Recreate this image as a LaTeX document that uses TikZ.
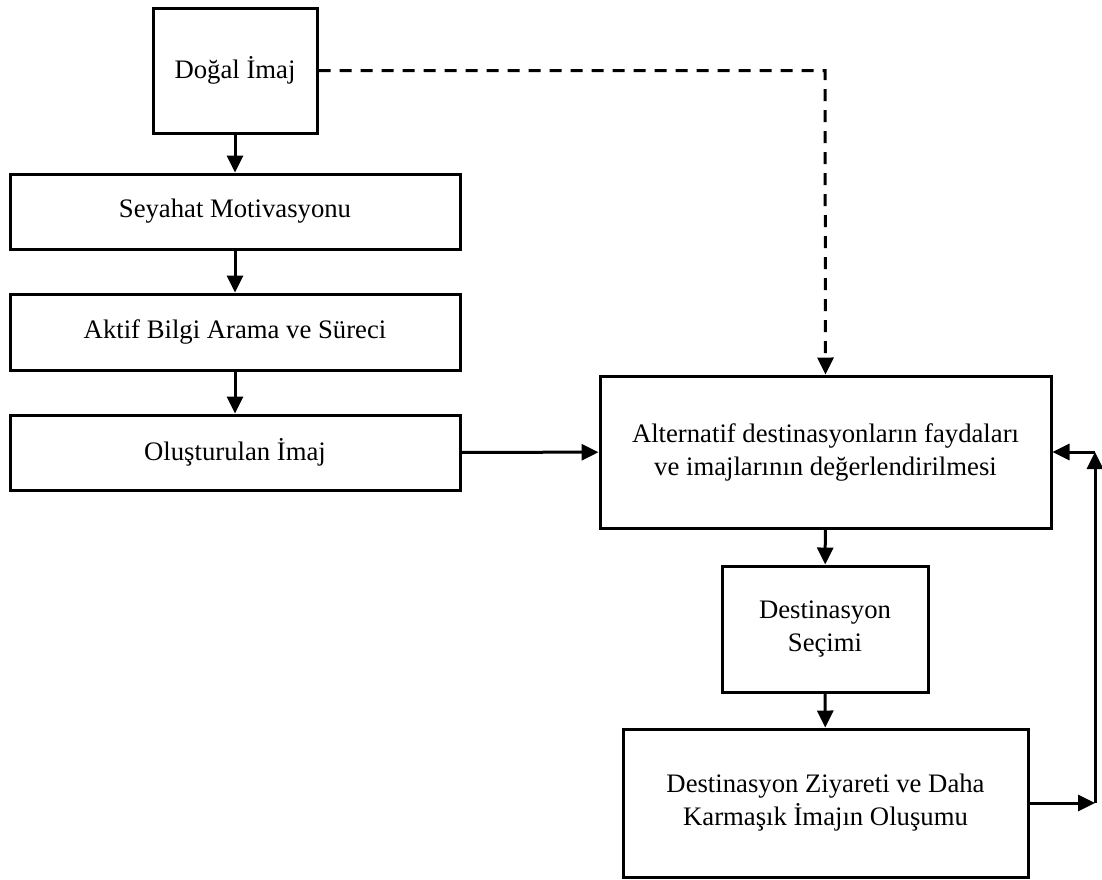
\documentclass[tikz,border=0pt]{standalone}
\usepackage{fontspec}
\setmainfont{Liberation Serif}
\usetikzlibrary{arrows.meta}
\begin{document}
\begin{tikzpicture}[x=1pt,y=1pt,
  box/.style={draw=black, line width=3pt, inner sep=0pt, align=center,
    font=\fontsize{26.7}{33}\selectfont},
  arr/.style={line width=3pt, -{Triangle[length=17pt,width=16pt]}},
  dasharr/.style={arr, dash pattern=on 12pt off 9pt}]
\useasboundingbox (0,0) rectangle (1102,-879);

% left column
\node[box, minimum width=164, minimum height=125] (dogal) at (235,-70.5) {Doğal İmaj};
\node[box, minimum width=450, minimum height=75] (seyahat) at (235,-211.5) {Seyahat Motivasyonu};
\node[box, minimum width=450, minimum height=76] (aktif) at (235,-332) {Aktif Bilgi Arama ve Süreci};
\node[box, minimum width=450, minimum height=75] (olus) at (235,-452.5) {Oluşturulan İmaj};

% right column
\node[box, minimum width=451, minimum height=152] (alt) at (825.5,-452)
  {Alternatif destinasyonların faydaları\\ve imajlarının değerlendirilmesi};
\node[box, minimum width=206, minimum height=126] (secim) at (825,-629)
  {Destinasyon\\Seçimi};
\node[box, minimum width=405, minimum height=148] (ziy) at (825.5,-803)
  {Destinasyon Ziyareti ve Daha\\Karmaşık İmajın Oluşumu};

% routing points
\coordinate (dcorner) at (825,-70.5);
\coordinate (fb1) at (1095,-803);
\coordinate (fb2) at (1095,-452);

% connectors
\draw[arr] (dogal) -- (seyahat);
\draw[arr] (seyahat) -- (aktif);
\draw[arr] (aktif) -- (olus);
\draw[arr] (olus) -- (alt);
\draw[dasharr] (dogal.east) -- (dcorner) -- (alt.north);
\draw[arr] (alt) -- (secim);
\draw[arr] (secim) -- (ziy);
\draw[arr] (ziy.east) -- (fb1);
\draw[arr] (fb1) -- (fb2);
\draw[arr] (fb2) -- (alt.east);
\end{tikzpicture}
\end{document}
